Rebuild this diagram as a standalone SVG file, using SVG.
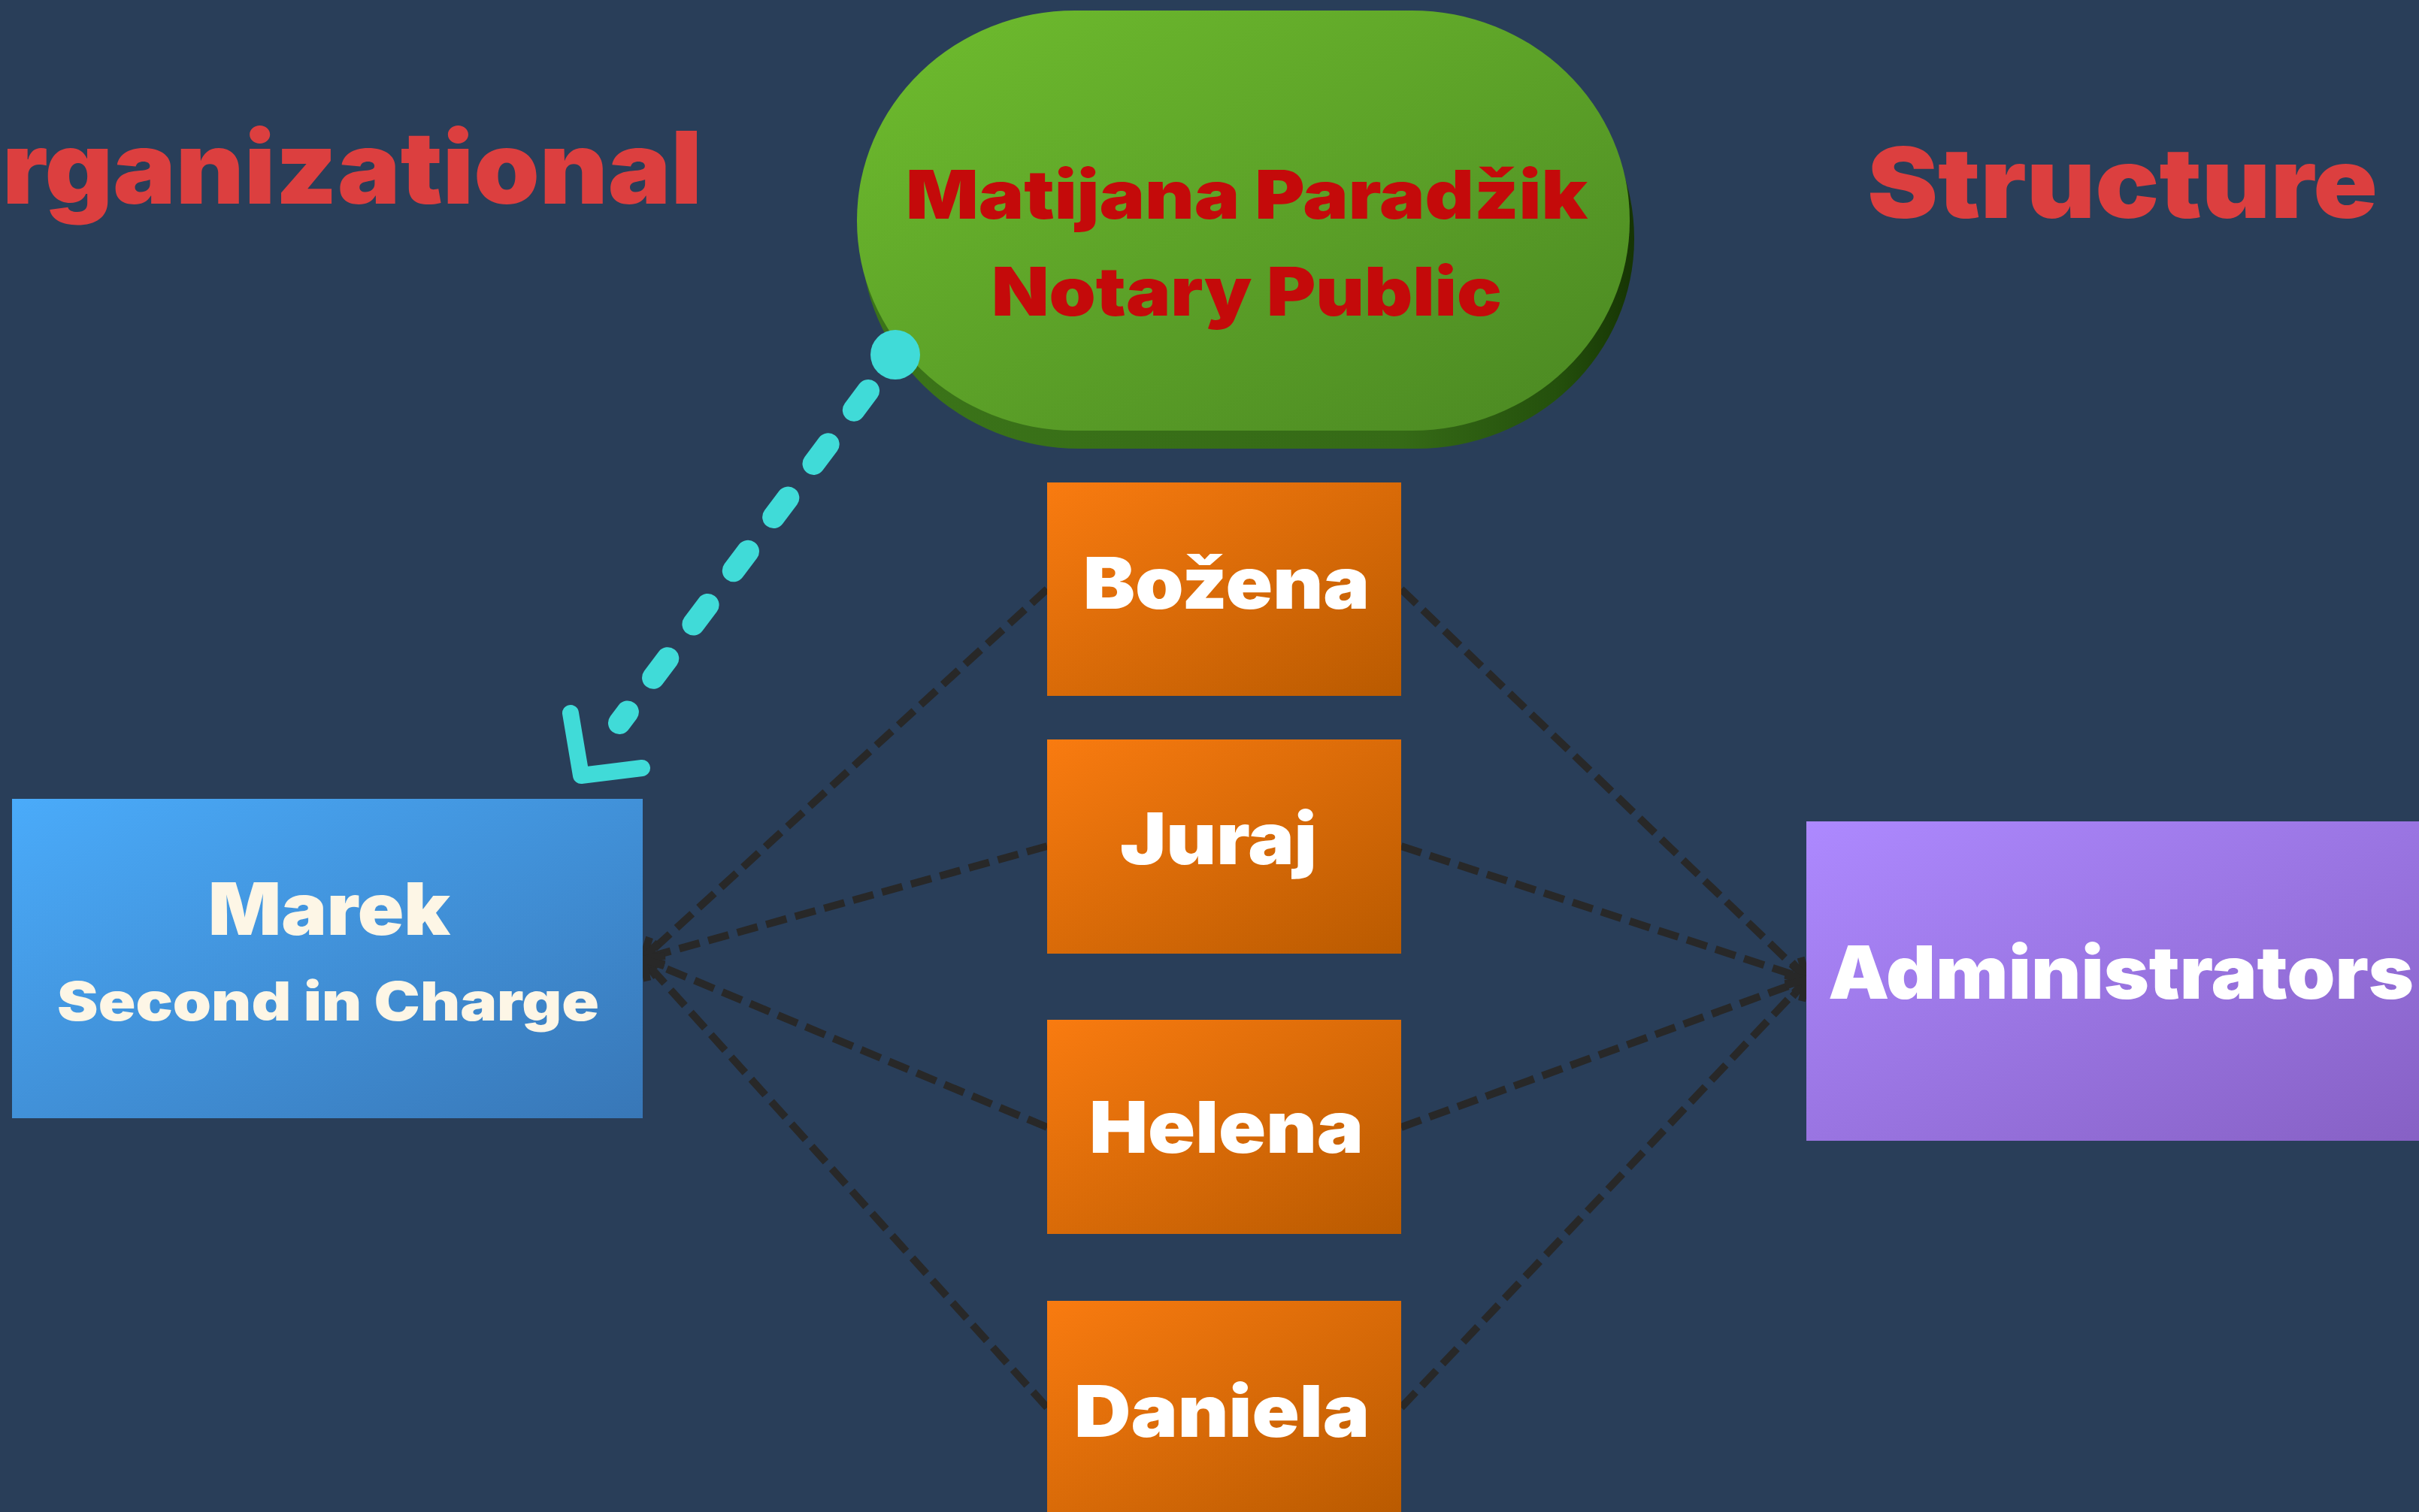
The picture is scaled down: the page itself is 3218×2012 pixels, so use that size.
<svg xmlns="http://www.w3.org/2000/svg" width="3218" height="2012" viewBox="0 0 3218 2012">
<defs>
<linearGradient id="gOrange" x1="0" y1="0" x2="1" y2="1"><stop offset="0" stop-color="#f97b10"/><stop offset="1" stop-color="#b95a00"/></linearGradient>
<linearGradient id="gBlue" x1="0" y1="0" x2="1" y2="1"><stop offset="0" stop-color="#4aabfa"/><stop offset="1" stop-color="#3877b7"/></linearGradient>
<linearGradient id="gPurple" x1="0" y1="0" x2="1" y2="1"><stop offset="0" stop-color="#ad89ff"/><stop offset="1" stop-color="#8660c4"/></linearGradient>
<linearGradient id="gGreen" x1="0" y1="0" x2="1" y2="1"><stop offset="0" stop-color="#6fbd2e"/><stop offset="1" stop-color="#4a8722"/></linearGradient>
<linearGradient id="gGreenSh" x1="0" y1="0" x2="1" y2="0"><stop offset="0" stop-color="#3b7419"/><stop offset="0.7" stop-color="#356a16"/><stop offset="0.9" stop-color="#24500c"/><stop offset="1" stop-color="#163404"/></linearGradient>
<marker id="chev" markerUnits="userSpaceOnUse" markerWidth="60" markerHeight="60" viewBox="-40 -30 60 60" refX="0" refY="0" orient="auto">
<path d="M-26,-15 L0,0 L-26,15" fill="none" stroke="#282828" stroke-width="10"/>
</marker>
<style>
.bg{fill:#293e59}
.title{font-family:Inter,"Liberation Sans",sans-serif;font-weight:900;fill:#dc3f3f}
.lbl{font-family:Inter,"Liberation Sans",sans-serif;font-weight:900;fill:#ffffff}
.cream{fill:#fdf6e6}
.red{fill:#c40a0a}
.dash{fill:none;stroke:#282828;stroke-width:10;stroke-dasharray:28 12;marker-end:url(#chev)}
.cyan{fill:none;stroke:#40dbd8;stroke-linecap:round;stroke-linejoin:round}
</style>
</defs>
<rect class="bg" x="0" y="0" width="3218" height="2012"/>

<text class="title" x="3" y="271" font-size="133" textLength="931" lengthAdjust="spacingAndGlyphs">rganizational</text>
<text class="title" x="2484" y="290" font-size="130" textLength="679" lengthAdjust="spacingAndGlyphs">Structure</text>

<g id="connectors">
<path class="dash" d="M1393,784 L855,1276"/>
<path class="dash" d="M1393,1126 L855,1276"/>
<path class="dash" d="M1393,1500 L855,1276"/>
<path class="dash" d="M1393,1873 L855,1276"/>
<path class="dash" d="M1864,784 L2404,1303"/>
<path class="dash" d="M1864,1126 L2404,1303"/>
<path class="dash" d="M1864,1500 L2404,1303"/>
<path class="dash" d="M1864,1873 L2404,1303"/>
</g>

<g id="notary">
<rect x="1146" y="38" width="1028" height="559" rx="290" ry="279" fill="url(#gGreenSh)"/>
<rect x="1140" y="14" width="1028" height="559" rx="290" ry="279" fill="url(#gGreen)"/>
<text class="lbl red" x="1205" y="291" font-size="89" textLength="907" lengthAdjust="spacingAndGlyphs">Matijana Paradžik</text>
<text class="lbl red" x="1319" y="420" font-size="89" textLength="679" lengthAdjust="spacingAndGlyphs">Notary Public</text>
</g>

<g id="cyan-link">
<path class="cyan" d="M1191,472 L824,962" stroke-width="30" stroke-dasharray="32 57" stroke-dashoffset="29"/>
<circle cx="1191" cy="472" r="33" fill="#40dbd8"/>
<path class="cyan" d="M759,949 L773,1032 L854,1022" stroke-width="22"/>
</g>

<g id="marek">
<rect x="16" y="1063" width="839" height="425" fill="url(#gBlue)"/>
<text class="lbl cream" x="277" y="1244" font-size="96" textLength="322" lengthAdjust="spacingAndGlyphs">Marek</text>
<text class="lbl cream" x="76" y="1358" font-size="71" textLength="721" lengthAdjust="spacingAndGlyphs">Second in Charge</text>
</g>

<g id="bozena">
<rect x="1393" y="642" width="471" height="284" fill="url(#gOrange)"/>
<text class="lbl" x="1441" y="810" font-size="95" textLength="381" lengthAdjust="spacingAndGlyphs">Božena</text>
</g>
<g id="juraj">
<rect x="1393" y="984" width="471" height="285" fill="url(#gOrange)"/>
<text class="lbl" x="1490" y="1150" font-size="95" textLength="262" lengthAdjust="spacingAndGlyphs">Juraj</text>
</g>
<g id="helena">
<rect x="1393" y="1357" width="471" height="285" fill="url(#gOrange)"/>
<text class="lbl" x="1449" y="1534" font-size="95" textLength="365" lengthAdjust="spacingAndGlyphs">Helena</text>
</g>
<g id="daniela">
<rect x="1393" y="1731" width="471" height="285" fill="url(#gOrange)"/>
<text class="lbl" x="1429" y="1912" font-size="95" textLength="393" lengthAdjust="spacingAndGlyphs">Daniela</text>
</g>

<g id="administrators">
<rect x="2403" y="1093" width="839" height="425" fill="url(#gPurple)"/>
<text class="lbl" x="2432" y="1329" font-size="97" textLength="779" lengthAdjust="spacingAndGlyphs">Administrators</text>
</g>
</svg>
